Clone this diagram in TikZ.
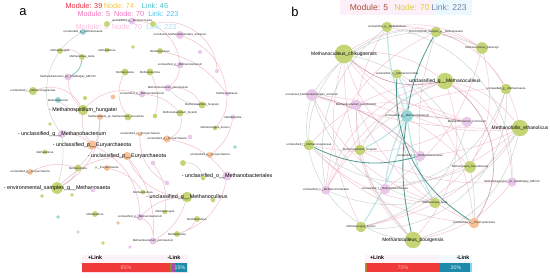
\documentclass[tikz,border=0pt]{standalone}
\usepackage{fontspec}
\setmainfont{Liberation Sans}
\usepackage{xcolor}
\usetikzlibrary{backgrounds}

\definecolor{nverde}{RGB}{196,212,118}
\definecolor{nrosa}{RGB}{233,200,233}
\definecolor{nnaranja}{RGB}{246,192,152}
\definecolor{ncian}{RGB}{150,214,214}
\definecolor{epos}{RGB}{226,120,150}
\definecolor{eneu}{RGB}{150,172,158}
\definecolor{eneg}{RGB}{40,128,118}
\definecolor{barrojo}{RGB}{240,58,58}
\definecolor{barazul}{RGB}{28,138,168}

\tikzset{
	nv/.style={circle, inner sep=0pt, fill=nverde, minimum size=#1},
	nr/.style={circle, inner sep=0pt, fill=nrosa, minimum size=#1},
	nn/.style={circle, inner sep=0pt, fill=nnaranja, minimum size=#1},
	nc/.style={circle, inner sep=0pt, fill=ncian, minimum size=#1},
	et/.style={font=\fontsize{2.4}{3}\selectfont, inner sep=0pt, text=black!85},
	em/.style={font=\fontsize{4.2}{5}\selectfont, inner sep=0pt},
	eg/.style={font=\fontsize{4.6}{5}\selectfont, inner sep=0pt},
	tit/.style={font=\fontsize{#1}{8}\selectfont, inner sep=0pt},
	lp/.style={epos, opacity=0.5, line width=0.4pt},
	lpf/.style={epos!80!black, opacity=0.55, line width=0.6pt},
	ln/.style={eneu, opacity=0.5, line width=0.4pt},
	lc/.style={eneg, opacity=0.8, line width=0.7pt},
	lcc/.style={ncian, opacity=0.6, line width=1pt},
}

\begin{document}
\begin{tikzpicture}[x=0.03cm, y=-0.03cm]
	\useasboundingbox (0,0) rectangle (550,278);

	% panel a
	\node[font=\fontsize{11}{12}\selectfont] (la) at (23,12) {a};
	\node[tit=6.2, text={rgb,255:red,236;green,40;blue,60}] (ma) at (84,6) {Module: 39};
	\node[tit=6.2, text={rgb,255:red,244;green,196;blue,70}] (na) at (119,6) {Node: 74};
	\node[tit=6.2, text={rgb,255:red,70;green,190;blue,200}] (ka) at (155,6) {Link: 46};
	\node[tit=6.2, text=magenta!55] (fa1) at (128,14) {Module: 5\ \ Node: 70\ \ \textcolor{cyan!70}{Link: 223}};
	\node[tit=6.2, text=magenta!25] (fa2) at (126,27) {Module: 5\ \ Node: 70\ \ \textcolor{cyan!35}{Link: 223}};

	\node[nv=5pt] (a01) at (107,24) {};
	\node[nr=6pt, label={[et]center:unclassified\_g\_\_Methanoregula}] (a02) at (132,21) {};
	\node[nv=5pt] (a03) at (153,24) {};
	\node[nr=7pt, label={[et]center:uncultured\_Methanobacteriales\_archaeon}] (a04) at (180,35) {};
	\node[nc=5pt, label={[et]center:unclassified\_g\_\_Methanosaeta}] (a05) at (83,32) {};
	\node[nv=5pt, label={[et]center:Methanoregula}] (a06) at (60,51) {};
	\node[nv=4pt, label={[et]center:Methanolinea}] (a07) at (107,50) {};
	\node[nv=3pt] (a08) at (133,47) {};
	\node[nv=5pt, label={[et]center:Methanoculleus}] (a09) at (160,51) {};
	\node[nr=3.5pt] (a10) at (200,52) {};
	\node[nv=5pt, label={[et]center:Methanolinea\_tarda}] (a11) at (82,57) {};
	\node[nr=6pt, label={[et]center:unclassified\_g\_\_Methanobacterium}] (a12) at (180,65) {};
	\node[nr=6pt, label={[et]center:Methanobacterium\_sp.\_Maddingley\_MBC34}] (a13) at (68,77) {};
	\node[nv=6pt, label={[et]center:Methanosaeta}] (a14) at (125,72) {};
	\node[nv=6pt, label={[et]center:Methanosarcina}] (a15) at (150,72) {};
	\node[nr=3.5pt] (a16) at (217,71) {};
	\node[nv=7pt, label={[et]center:unclassified\_f\_\_Methanoregulaceae}] (a17) at (33,91) {};
	\node[nr=6pt, label={[et]center:unclassified\_g\_\_Methanobacterium}] (a18) at (142,94) {};
	\node[nr=6pt, label={[et]center:Methanobacterium\_petrolearium}] (a19) at (168,88) {};
	\node[nn=4pt] (a20) at (113,97) {};
	\node[nc=5pt, label={[et]center:Methanosarcina}] (a21) at (58,100) {};
	\node[nv=3.5pt] (a22) at (85,98) {};
	\node[nr=3.5pt, label={[et]center:Methanosphaera}] (a23) at (227,94) {};
	\node[nv=6pt, label={[et]center:Methanospirillum\_hungatei}] (a24) at (202,105) {};
	\node[nv=9pt, label={[eg]center:- Methanospirillum\_hungatei}] (a25) at (83,110) {};
	\node[nn=5pt, label={[et]center:Methanosaeta\_sp.}] (a26) at (100,117) {};
	\node[nv=6pt, label={[et]center:Methanolinea\_mesophila}] (a27) at (128,117) {};
	\node[nv=4pt] (a28) at (155,116) {};
	\node[nv=6pt, label={[et]center:Methanobacterium\_bryantii}] (a29) at (180,113) {};
	\node[nr=4pt, label={[et]center:Methanocella}] (a30) at (233,117) {};
	\node[nv=3pt] (a31) at (50,124) {};
	\node[nr=7pt, label={[eg]center:- unclassified\_g\_\_Methanobacterium}] (a32) at (62,134) {};
	\node[nv=4pt, label={[et]center:Methanoregula\_boonei}] (a33) at (215,128) {};
	\node[nn=4pt, label={[et]center:unclassified\_p\_\_Euryarchaeota}] (a34) at (140,134) {};
	\node[nn=6pt, label={[et]center:unclassified\_p\_\_Euryarchaeota}] (a35) at (167,139) {};
	\node[nr=4pt] (a36) at (190,137) {};
	\node[nn=8pt, label={[eg]center:- unclassified\_p\_\_Euryarchaeota}] (a37) at (92,145) {};
	\node[nn=7pt, label={[eg]center:- unclassified\_p\_\_Euryarchaeota}] (a38) at (127,156) {};
	\node[nv=4pt, label={[et]center:Methanolinea}] (a39) at (45,152) {};
	\node[nn=5pt, label={[et]center:unclassified\_p\_\_Euryarchaeota}] (a40) at (30,172) {};
	\node[nv=6pt, label={[et]center:Methanosaeta}] (a41) at (78,168) {};
	\node[nn=5pt, label={[et]center:p\_\_Euryarchaeota}] (a42) at (107,168) {};
	\node[nv=10pt, label={[eg]center:- environmental\_samples\_g\_\_Methanosaeta}] (a43) at (57,188) {};
	\node[nv=3pt] (a44) at (42,196) {};
	\node[nv=3pt] (a45) at (72,195) {};
	\node[nr=4pt] (a46) at (93,190) {};
	\node[nv=4pt, label={[et]center:Methanoculleus}] (a47) at (143,192) {};
	\node[nr=4pt] (a48) at (153,163) {};
	\node[nr=4pt] (a49) at (167,183) {};
	\node[nv=5pt] (a50) at (183,163) {};
	\node[nn=5pt, label={[et]center:unclassified\_p\_\_Euryarchaeota}] (a51) at (210,155) {};
	\node[nc=3pt] (a52) at (235,147) {};
	\node[nr=8pt, label={[eg]center:- unclassified\_o\_\_Methanobacteriales}] (a53) at (227,176) {};
	\node[nv=4pt] (a54) at (203,178) {};
	\node[nv=9pt, label={[eg]center:- unclassified\_g\_\_Methanoculleus}] (a55) at (187,197) {};
	\node[nv=4pt] (a56) at (213,200) {};
	\node[nv=5pt, label={[et]center:Methanolinea}] (a57) at (95,214) {};
	\node[nc=3pt] (a58) at (58,217) {};
	\node[nr=6pt, label={[et]center:unclassified\_g\_\_Methanobacterium}] (a59) at (140,217) {};
	\node[nv=4pt, label={[et]center:Methanoregula}] (a60) at (165,212) {};
	\node[nv=5pt, label={[et]center:Methanoculleus}] (a61) at (197,219) {};
	\node[nn=3pt] (a62) at (118,223) {};
	\node[nv=5pt, label={[et]center:Methanosaeta}] (a63) at (177,234) {};
	\node[nr=6pt, label={[et]center:Methanobacterium\_petrolearium}] (a64) at (153,241) {};
	\node[nr=3pt] (a65) at (78,232) {};
	\node[nv=3pt] (a66) at (103,243) {};
	\node[nr=3pt] (a67) at (130,247) {};

	% panel b
	\node[font=\fontsize{11}{12}\selectfont] (lb) at (295,12) {b};
	\node[tit=7.3, text={rgb,255:red,165;green,80;blue,55}] (mb) at (369,7) {Module: 5};
	\node[tit=7.3, text={rgb,255:red,222;green,205;blue,60}] (nb) at (412,7) {Node: 70};
	\node[tit=7.3, text={rgb,255:red,110;green,135;blue,170}] (kb) at (449,7) {Link: 223};

	\node[nv=9pt, label={[et]center:unclassified\_g\_\_Methanolinea}] (b01) at (387,27) {};
	\node[nv=9pt, label={[et]center:environmental\_samples\_g\_\_Methanosaeta}] (b02) at (436,32) {};
	\node[nv=10pt, label={[et]center:Methanoculleus\_marisnigri}] (b03) at (482,48) {};
	\node[nv=16pt, label={[em]center:Methanoculleus\_chikugoensis}] (b04) at (344,54) {};
	\node[nv=8pt, label={[et]center:unclassified\_c\_\_Methanomicrobia}] (b05) at (397,74) {};
	\node[nv=14pt, label={[em]center:unclassified\_g\_\_Methanoculleus}] (b06) at (445,81) {};
	\node[nv=9pt, label={[et]center:unclassified\_g\_\_Methanosaeta}] (b07) at (506,89) {};
	\node[nr=10pt, label={[et]center:uncultured\_Methanobacteriales\_archaeon}] (b08) at (312,95) {};
	\node[nr=9pt, label={[et]center:Methanobacterium\_petrolearium}] (b09) at (356,105) {};
	\node[nc=10pt, label={[et]center:unclassified\_g\_\_Methanobacterium}] (b10) at (407,116) {};
	\node[nr=9pt, label={[et]center:Methanobacterium\_formicicum}] (b11) at (467,122) {};
	\node[nv=14pt, label={[em]center:Methanofollis\_ethanolicus}] (b12) at (520,128) {};
	\node[nv=9pt, label={[et]center:unclassified\_f\_\_Methanoregulaceae}] (b13) at (309,145) {};
	\node[nv=9pt, label={[et]center:Methanospirillum\_hungatei}] (b14) at (360,150) {};
	\node[nr=9pt, label={[et]center:unclassified\_o\_\_Methanobacteriales}] (b15) at (420,156) {};
	\node[nv=10pt, label={[et]center:Methanosaeta\_harundinacea}] (b16) at (470,167) {};
	\node[nr=8pt, label={[et]center:Methanobacterium\_sp.\_Maddingley\_MBC34}] (b17) at (512,182) {};
	\node[nr=8pt, label={[et]center:unclassified\_o\_\_Methanomicrobiales}] (b18) at (326,190) {};
	\node[nr=9pt, label={[et]center:unclassified\_f\_\_Methanosarcinaceae}] (b19) at (385,189) {};
	\node[nv=9pt, label={[et]center:Methanolinea\_tarda}] (b20) at (435,203) {};
	\node[nn=9pt, label={[et]center:unclassified\_o\_\_Thermoplasmata}] (b21) at (474,223) {};
	\node[nv=9pt, label={[et]center:Methanoregula\_boonei}] (b22) at (361,227) {};
	\node[nv=14pt, label={[em]center:Methanoculleus\_bourgensis}] (b23) at (413,240) {};

	% barras
	\node[tit=4.5, font=\bfseries\fontsize{4.5}{5}\selectfont] (pa) at (95,258) {+Link};
	\node[tit=4.5, font=\bfseries\fontsize{4.5}{5}\selectfont] (qa) at (174,258) {-Link};
	\fill[barrojo] (82,263) rectangle (170,272);
	\fill[olive!70!gray] (170,263) rectangle (172,272);
	\fill[violet!70] (172,263) rectangle (176,272);
	\fill[barazul] (176,263) rectangle (187,272);
	\node[tit=4.5, text={rgb,255:red,255;green,175;blue,175}] (va) at (126,267.5) {85\%};
	\node[tit=4.5, text=white!85!cyan] (wa) at (180,267.5) {15\%};

	\node[tit=4.5, font=\bfseries\fontsize{4.5}{5}\selectfont] (pb) at (377,258) {+Link};
	\node[tit=4.5, font=\bfseries\fontsize{4.5}{5}\selectfont] (qb) at (463,258) {-Link};
	\fill[brown] (365,263) rectangle (367,272);
	\fill[barrojo] (367,263) rectangle (440,272);
	\fill[barazul] (440,263) rectangle (470,272);
	\fill[cyan!50] (470,263) rectangle (472,272);
	\node[tit=4.5, text={rgb,255:red,255;green,175;blue,175}] (vb) at (403,267.5) {70\%};
	\node[tit=4.5, text=white!85!cyan] (wb) at (456,267.5) {30\%};

	\begin{pgfonlayer}{background}
		\fill[white] (0,0) rectangle (550,278);
		\fill[magenta!6] (340,0) rectangle (433,15);
		\fill[cyan!8] (433,0) rectangle (472,15);
		\fill[magenta!5] (82,255) rectangle (188,263);
		\fill[magenta!5] (365,255) rectangle (440,263);
		\fill[cyan!6] (440,255) rectangle (472,263);
		\draw[magenta!15] (82,263) rectangle (187,272);

		% enlaces a
		\draw[lp] (a02) to[bend left=40] (a12)  (a04) to[bend left=30] (a23)
			(a09) to[bend left=20] (a23)  (a12) to[bend left=20] (a19)
			(a14) to[bend right=30] (a27)  (a18) to[bend left=20] (a29)
			(a25) to[bend left=30] (a18)  (a25) to[bend right=20] (a37)
			(a32) to[bend left=20] (a37)  (a37) to[bend left=30] (a59)
			(a38) to[bend right=30] (a55)  (a38) to[bend left=20] (a64)
			(a35) to[bend left=20] (a53)  (a34) to[bend right=30] (a49)
			(a43) to[bend left=20] (a38)  (a43) to[bend right=30] (a26)
			(a40) to[bend left=20] (a41)  (a53) to[bend left=30] (a63)
			(a55) to[bend left=20] (a64)  (a55) to[bend right=20] (a59)
			(a30) to[bend left=20] (a51)  (a23) to[bend left=20] (a33)
			(a29) to[bend left=40] (a35)  (a17) to[bend left=40] (a25)
			(a13) to[bend right=20] (a25)  (a06) to[bend left=30] (a11)
			(a19) to[bend left=30] (a24)  (a48) to[bend left=20] (a60)
			(a59) to[bend left=30] (a64)  (a42) to[bend left=20] (a47)
			(a21) to[bend right=20] (a25)  (a61) to[bend left=20] (a63)
			(a03) to[bend left=50] (a16)  (a15) to[bend left=20] (a28);
		\draw[ln] (a05) to[bend right=50] (a32)  (a50) to[bend left=40] (a54)
			(a43) to[bend right=20] (a41)  (a24) to[bend left=20] (a19)
			(a32) to[bend left=10] (a43)  (a26) to[bend left=20] (a41)
			(a01) to[bend left=20] (a02);
		\draw[lc, opacity=0.5] (a11) to[bend left=30] (a13);

		% enlaces b
		\draw[lp, opacity=0.42] (b04) to[bend left=20] (b06)  (b04) to[bend left=30] (b03)
			(b04) to[bend right=30] (b12)  (b04) to[bend right=20] (b23)
			(b04) to[bend right=20] (b15)  (b04) to[bend right=15] (b11)
			(b06) to[bend left=20] (b12)  (b06) to[bend left=30] (b17)
			(b06) to[bend left=30] (b23)  (b06) to[bend right=20] (b13)
			(b06) to[bend right=30] (b18)  (b01) to[bend left=20] (b03)
			(b01) to[bend left=40] (b12)  (b02) to[bend left=20] (b07)
			(b03) to[bend left=20] (b16)  (b07) to[bend left=30] (b22)
			(b07) to[bend right=30] (b18)  (b08) to[bend right=10] (b12)
			(b08) to[bend right=20] (b20)  (b09) to[bend left=15] (b11)
			(b09) to[bend right=20] (b21)  (b12) to[bend left=20] (b22)
			(b12) to[bend left=15] (b19)  (b13) to[bend right=20] (b21)
			(b14) to[bend right=15] (b17)  (b15) to[bend right=10] (b12)
			(b18) to[bend left=20] (b06)  (b19) to[bend right=20] (b03)
			(b22) to[bend left=20] (b04)  (b23) to[bend right=20] (b17)
			(b23) to[bend left=40] (b01)  (b16) to[bend right=20] (b08)
			(b11) to[bend left=20] (b13)  (b05) to[bend left=20] (b21)
			(b02) to[bend right=30] (b18)  (b20) to[bend left=20] (b13);
		\draw[lpf] (b10) to[bend left=5] (b11)  (b04) to[bend right=25] (b06)
			(b08) to[bend left=15] (b15)  (b06) to[bend left=45] (b21);
		\draw[ln] (b08) to[bend left=40] (b03)  (b13) to[bend left=50] (b02)
			(b18) to[bend right=40] (b12)  (b22) to[bend right=50] (b07)
			(b23) to[bend left=50] (b08)  (b21) to[bend right=40] (b04)
			(b17) to[bend right=40] (b01)  (b14) to[bend left=20] (b06)
			(b20) to[bend left=30] (b08)  (b19) to[bend right=30] (b07)
			(b16) to[bend left=30] (b13)  (b09) to[bend right=20] (b23)
			(b05) to[bend right=20] (b20)  (b11) to[bend left=30] (b22)
			(b15) to[bend left=10] (b02)  (b01) to[bend right=30] (b18)
			(b12) to[bend left=30] (b23);
		\draw[lcc] (b10) to[bend left=10] (b14)  (b10) to[bend right=10] (b19)
			(b10) to[bend left=10] (b22)  (b10) to[bend right=10] (b20)
			(b10) to[bend left=10] (b01)  (b10) to[bend right=15] (b05);
		\draw[lc] (b02) to[bend right=10] (b10)  (b05) to[bend right=30] (b21)
			(b13) to[bend right=20] (b15)  (b10) to[bend right=10] (b23);
	\end{pgfonlayer}
\end{tikzpicture}
\end{document}
